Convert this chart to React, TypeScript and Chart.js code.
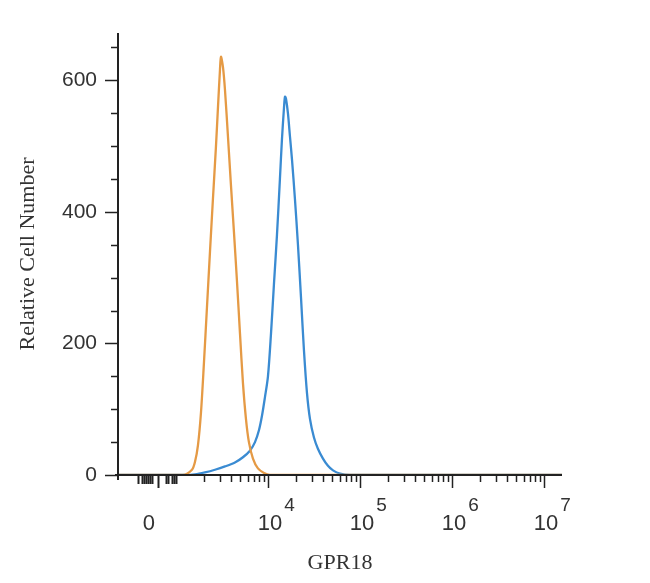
import React, { useEffect, useRef } from 'react';
import { Chart, registerables } from 'chart.js';

Chart.register(...registerables);

// x values are display positions in decades (log10 of fluorescence); 0 sits in the linear region
const isotypeX = [2.37, 3.076, 3.174, 3.207, 3.239, 3.272, 3.304, 3.337, 3.37, 3.402, 3.435, 3.457, 3.478, 3.489, 3.511, 3.533, 3.565, 3.598, 3.63, 3.663, 3.696, 3.728, 3.761, 3.793, 3.837, 3.891, 3.957, 4.022, 7.196];
const isotypeY = [0, 0, 8, 20, 45, 95, 170, 255, 340, 420, 500, 560, 615, 636, 620, 585, 515, 440, 370, 295, 215, 140, 85, 50, 25, 10, 3, 0, 0];

const gpr18X = [2.37, 3.1, 3.207, 3.315, 3.424, 3.533, 3.641, 3.728, 3.804, 3.859, 3.902, 3.935, 3.967, 4.0, 4.033, 4.065, 4.098, 4.13, 4.152, 4.174, 4.185, 4.196, 4.217, 4.239, 4.261, 4.293, 4.326, 4.359, 4.391, 4.424, 4.457, 4.5, 4.543, 4.598, 4.652, 4.707, 4.783, 4.891, 7.196];
const gpr18Y = [0, 0, 1, 4, 8, 13, 19, 27, 37, 50, 68, 90, 118, 150, 215, 290, 365, 450, 510, 558, 575, 572, 550, 515, 480, 420, 350, 270, 190, 125, 85, 57, 40, 25, 14, 7, 2, 0, 0];

const yMajorTicks = [0, 200, 400, 600];
const yMinorTicks = [50, 100, 150, 250, 300, 350, 450, 500, 550, 650];

const xMajorPos = [2.685, 4, 5, 6, 7];
const xMajorBase = ['0', '10', '10', '10', '10'];
const xMajorExp = ['', '4', '5', '6', '7'];
const xLinearMinor = [2.587, 2.63, 2.652, 2.674, 2.696, 2.718, 2.739, 2.891, 2.913, 2.957, 2.978, 3.0];
const xLinearLong = [2.804];
const xLogDecades = [3, 4, 5, 6];

const X_MIN = 2.37;
const X_MAX = 7.196;
const Y_MAX = 672;

const ORANGE = '#E59A45';
const BLUE = '#3A8BD2';
const AXIS = '#222';
const TEXT = '#333';

const axesPlugin = {
  id: 'flowAxes',
  afterDatasetsDraw(chart: any) {
    const { ctx, chartArea, scales } = chart;
    const x = scales.x;
    const y = scales.y;
    const left = chartArea.left;
    const bottom = chartArea.bottom;
    ctx.save();
    ctx.strokeStyle = AXIS;
    ctx.lineWidth = 2;
    ctx.beginPath();
    ctx.moveTo(left - 3, bottom);
    ctx.lineTo(chartArea.right, bottom);
    ctx.stroke();
    ctx.beginPath();
    ctx.moveTo(left, chartArea.top);
    ctx.lineTo(left, bottom + 5);
    ctx.stroke();

    ctx.lineWidth = 1.5;
    const yTick = (v: number, len: number) => {
      const py = Math.round(y.getPixelForValue(v)) + 0.5;
      ctx.beginPath();
      ctx.moveTo(left - len, py);
      ctx.lineTo(left, py);
      ctx.stroke();
    };
    yMajorTicks.forEach((v) => yTick(v, 13));
    yMinorTicks.forEach((v) => yTick(v, 7));

    const xTick = (v: number, len: number, w: number) => {
      const px = Math.round(x.getPixelForValue(v)) + 0.5;
      ctx.lineWidth = w;
      ctx.beginPath();
      ctx.moveTo(px, bottom);
      ctx.lineTo(px, bottom + len);
      ctx.stroke();
    };
    xMajorPos.slice(1).forEach((v) => xTick(v, 13, 1.5));
    xLinearLong.forEach((v) => xTick(v, 13, 2));
    xLinearMinor.forEach((v) => xTick(v, 9, 2));
    xLogDecades.forEach((n) => {
      for (let k = 2; k <= 9; k++) {
        const v = n + Math.log10(k);
        if (v < X_MAX) xTick(v, 7, 1.5);
      }
    });

    ctx.fillStyle = TEXT;
    ctx.textBaseline = 'middle';
    xMajorPos.forEach((v, i) => {
      const px = x.getPixelForValue(v);
      ctx.font = '22px "Liberation Sans", Arial, sans-serif';
      ctx.textAlign = 'center';
      ctx.fillText(xMajorBase[i], px + 2, 524);
      if (xMajorExp[i]) {
        const w = ctx.measureText(xMajorBase[i]).width;
        ctx.font = '19px "Liberation Sans", Arial, sans-serif';
        ctx.textAlign = 'left';
        ctx.fillText(xMajorExp[i], px + 2 + w / 2 + 2, 506);
      }
    });
    ctx.restore();
  },
};

export default function App() {
  const ref = useRef<HTMLCanvasElement>(null);
  useEffect(() => {
    document.body.style.margin = '0';
    document.body.style.overflow = 'hidden';
    const canvas = ref.current;
    if (!canvas) return;
    const chart = new Chart(canvas, {
      type: 'line',
      data: {
        datasets: [
          {
            label: 'Isotype',
            data: isotypeX.map((v, i) => ({ x: v, y: isotypeY[i] })),
            borderColor: ORANGE,
            borderWidth: 2.3,
            pointRadius: 0,
            fill: false,
            tension: 0.3,
          },
          {
            label: 'GPR18',
            data: gpr18X.map((v, i) => ({ x: v, y: gpr18Y[i] })),
            borderColor: BLUE,
            borderWidth: 2.3,
            pointRadius: 0,
            fill: false,
            tension: 0.3,
          },
        ],
      },
      options: {
        animation: false,
        responsive: false,
        devicePixelRatio: 1,
        layout: { padding: { top: 33, right: 88, left: 0, bottom: 0 } },
        plugins: { legend: { display: false }, tooltip: { enabled: false } },
        scales: {
          x: {
            type: 'linear',
            min: X_MIN,
            max: X_MAX,
            grid: { display: false },
            border: { display: false },
            ticks: { display: false },
            title: {
              display: true,
              text: 'GPR18',
              color: TEXT,
              font: { family: '"Liberation Serif", "Times New Roman", serif', size: 22 },
              padding: { top: 0, bottom: 7 },
            },
            afterFit: (s: any) => {
              s.height = 108;
            },
          },
          y: {
            type: 'linear',
            min: 0,
            max: Y_MAX,
            grid: { display: true, drawOnChartArea: false, drawTicks: true, tickLength: 13, color: 'rgba(0,0,0,0)' },
            border: { display: false },
            ticks: {
              stepSize: 50,
              autoSkip: false,
              padding: 8,
              color: TEXT,
              font: { family: '"Liberation Sans", Arial, sans-serif', size: 21 },
              callback: (v: any) => (yMajorTicks.includes(Number(v)) ? String(v) : ''),
            },
            title: {
              display: true,
              text: 'Relative Cell Number',
              color: TEXT,
              font: { family: '"Liberation Serif", "Times New Roman", serif', size: 22 },
              padding: { top: 15, bottom: 0 },
            },
            afterFit: (s: any) => {
              s.width = 118;
            },
          },
        },
      },
      plugins: [axesPlugin],
    });
    return () => chart.destroy();
  }, []);
  return <canvas ref={ref} width={650} height={583} style={{ display: 'block' }} />;
}
